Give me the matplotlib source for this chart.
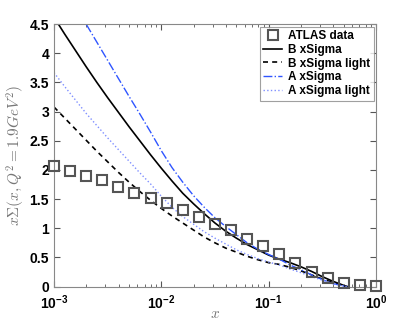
import numpy as np
import matplotlib
matplotlib.use("Agg")
import matplotlib.pyplot as plt
from matplotlib.ticker import FixedLocator, LogLocator, FuncFormatter, NullFormatter

# ATLAS data points (evenly spaced in log x)
atlas_x = 10 ** np.arange(-3, 0.001, 0.15)
atlas_y = [2.07, 1.98, 1.90, 1.82, 1.70, 1.61, 1.52, 1.43, 1.32, 1.20, 1.08,
           0.97, 0.82, 0.69, 0.56, 0.40, 0.25, 0.14, 0.06, 0.02, 0.01]

curve_x = list(10 ** np.arange(-3, -0.25, 0.1)) + [0.54]
b_xsigma = [4.62, 4.33, 4.05, 3.77, 3.50, 3.24, 2.99, 2.74, 2.50, 2.26,
            2.03, 1.81, 1.60, 1.42, 1.25, 1.09, 0.95, 0.83, 0.72, 0.63,
            0.54, 0.47, 0.41, 0.34, 0.26, 0.17, 0.09, 0.02, 0.0]
b_light = [3.08, 2.89, 2.70, 2.51, 2.32, 2.14, 1.96, 1.79, 1.63, 1.48,
           1.34, 1.21, 1.09, 0.97, 0.85, 0.75, 0.66, 0.59, 0.52, 0.46,
           0.41, 0.38, 0.33, 0.27, 0.20, 0.13, 0.07, 0.01, 0.0]
a_xsigma = [5.45, 5.13, 4.82, 4.50, 4.19, 3.88, 3.57, 3.26, 2.96, 2.65,
            2.33, 2.04, 1.79, 1.56, 1.36, 1.18, 1.03, 0.89, 0.75, 0.64,
            0.55, 0.47, 0.37, 0.29, 0.20, 0.12, 0.05, 0.01, 0.0]
a_light = [3.67, 3.43, 3.20, 2.97, 2.76, 2.55, 2.35, 2.15, 1.95, 1.76,
           1.55, 1.36, 1.20, 1.07, 0.94, 0.83, 0.73, 0.63, 0.55, 0.48,
           0.42, 0.37, 0.30, 0.24, 0.17, 0.11, 0.05, 0.01, 0.0]

plt.rcParams['font.family'] = ['Liberation Sans', 'DejaVu Sans']
plt.rcParams['font.weight'] = 'bold'
plt.rcParams['mathtext.fontset'] = 'custom'
plt.rcParams['mathtext.rm'] = 'Liberation Sans:bold'
plt.rcParams['mathtext.bf'] = 'Liberation Sans:bold'

fig = plt.figure(figsize=(4.15, 3.22), dpi=100)
ax = fig.add_axes([0.130, 0.110, 0.776, 0.815])

ax.plot(atlas_x, atlas_y, 's', mfc='none', mec='#555555', ms=6.5, mew=1.5,
        label='ATLAS data', zorder=3, clip_on=False)
ax.plot(curve_x, b_xsigma, '-', color='black', lw=1.2, label='B xSigma')
ax.plot(curve_x, b_light, '--', color='black', lw=1.2, dashes=(3, 2.5),
        label='B xSigma light')
ax.plot(curve_x, a_xsigma, '-.', color='#2f55ff', lw=1.0, label='A xSigma')
ax.plot(curve_x, a_light, ':', color='#7f8fff', lw=1.0, label='A xSigma light')

ax.set_xscale('log')
ax.set_xlim(1e-3, 1)
ax.set_ylim(0, 4.5)
ax.yaxis.set_major_locator(FixedLocator(np.arange(0, 4.51, 0.5)))
ax.yaxis.set_major_formatter(FuncFormatter(lambda v, p: ('%g' % v)))
ax.xaxis.set_major_locator(LogLocator(base=10, numticks=10))
ax.xaxis.set_minor_locator(LogLocator(base=10, subs=np.arange(2, 10), numticks=10))
ax.xaxis.set_minor_formatter(NullFormatter())
ax.xaxis.set_major_formatter(FuncFormatter(lambda v, p: r'$10^{%d}$' % round(np.log10(v))))

ax.tick_params(which='both', direction='in', top=True, right=True,
               colors='#555555', labelcolor='black', labelsize=10)
ax.tick_params(which='major', length=4)
ax.tick_params(which='minor', length=2)
ax.tick_params(axis='x', pad=5)
for s in ax.spines.values():
    s.set_color('#888888')

ax.set_xlabel(r'$x$', color='#777777', fontsize=11, math_fontfamily='cm', labelpad=-4)
ax.set_ylabel(r'$x\Sigma(x,Q^2=1.9GeV^2)$', color='#777777', fontsize=11,
              math_fontfamily='cm', labelpad=2)

leg = ax.legend(loc='upper right', fontsize=8.5, handlelength=1.6, handletextpad=0.5,
                borderpad=0.3, labelspacing=0.15, fancybox=False, borderaxespad=0.2)
leg.get_frame().set_edgecolor('#888888')
leg.get_frame().set_linewidth(0.8)

fig.savefig('out.png', dpi=100)
